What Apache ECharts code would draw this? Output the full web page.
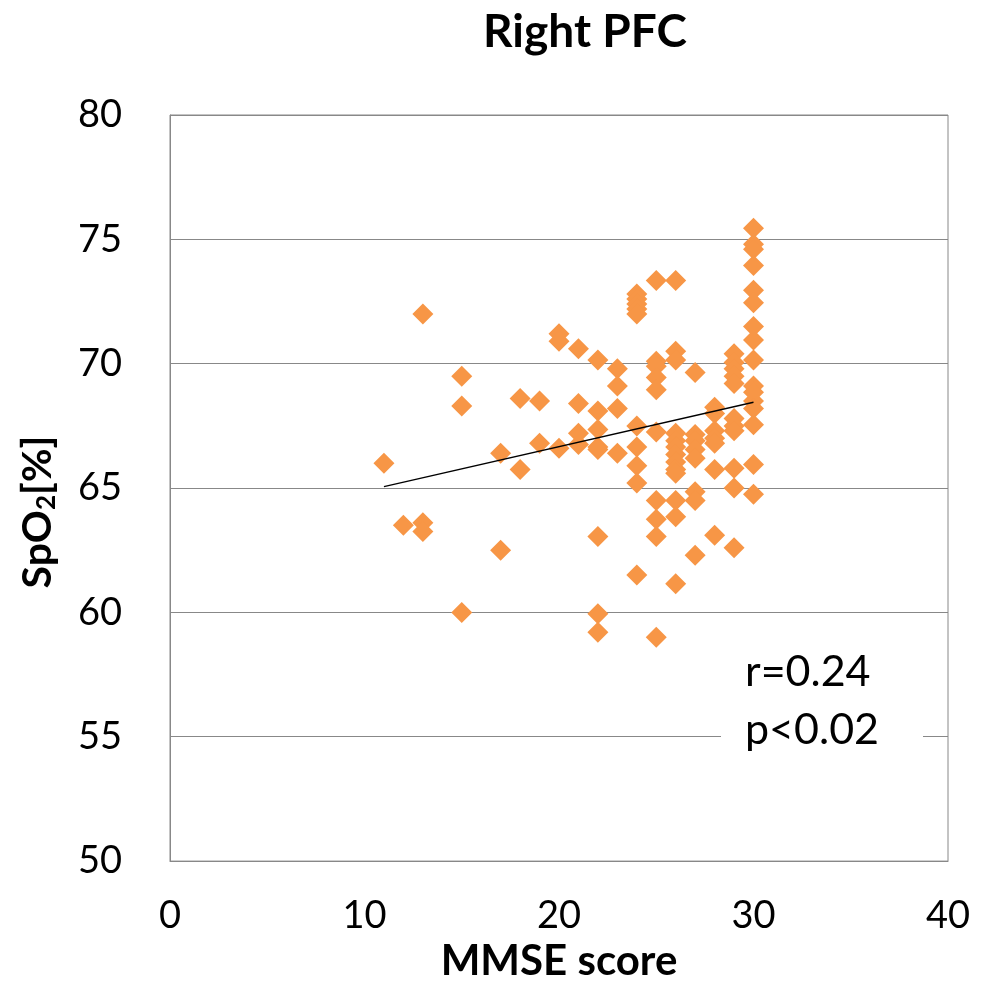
<!DOCTYPE html>
<html><head><meta charset="utf-8">
<script src="https://cdn.jsdelivr.net/npm/echarts@6/dist/echarts.min.js"></script>
<style>html,body{margin:0;padding:0;background:#fff}#c{width:984px;height:987px}</style>
</head><body><div id="c"></div>
<script>
var titleText = "Right PFC";
var xName = "MMSE score";
var statsLines = ["r=0.24", "p<0.02"];
var mmse = [11, 12, 13,13,13, 15,15,15, 17,17, 18,18, 19,19, 20,20,20, 21,21,21,21,
  22,22,22,22,22,22,22,22, 23,23,23,23,
  24,24,24,24,24,24,24,24,24,24,
  25,25,25,25,25,25,25,25,25,25,
  26,26,26,26,26,26,26,26,26,26,26,26,26,
  27,27,27,27,27,27,27,27,
  28,28,28,28,28,28,28,
  29,29,29,29,29,29,29,29,29,29,29,
  30,30,30,30,30,30,30,30,30,30,30,30,30,30,30,30];
var spo2 = [66.0, 63.5, 72.0,63.6,63.25, 69.5,68.3,60.0, 66.4,62.5, 68.6,65.75, 68.5,66.8, 71.2,70.9,66.6, 70.6,68.4,67.2,66.75,
  70.15,68.1,67.35,66.65,66.55,63.05,59.95,59.2, 69.8,69.1,68.2,66.4,
  72.8,72.6,72.4,72.2,72.0,67.5,66.65,65.9,65.2,61.5,
  73.35,70.1,69.9,69.45,68.95,67.25,64.5,63.75,63.05,59.0,
  73.35,70.5,70.15,67.2,66.9,66.65,66.35,66.05,65.75,65.6,64.5,63.85,61.15,
  69.65,67.15,66.9,66.55,66.2,64.85,64.5,62.3,
  68.25,68.0,67.3,67.0,66.8,65.75,63.1,
  70.4,70.05,69.8,69.5,69.2,67.8,67.5,67.3,65.8,65.0,62.6,
  75.45,74.8,74.6,73.95,72.95,72.45,71.5,70.95,70.15,69.1,68.85,68.5,68.2,67.55,65.95,64.75];
var trendX = [11, 30];
var trendY = [65.06, 68.45];
var xTicks = [0, 10, 20, 30, 40];
var yTicks = [50, 55, 60, 65, 70, 75, 80];

var pts = mmse.map(function(x, i){ return [x, spo2[i]]; });
var trend = trendX.map(function(x, i){ return [x, trendY[i]]; });
var FONT = 'Lato, "Open Sans", sans-serif';

var chart = echarts.init(document.getElementById('c'), null, {renderer:'canvas'});
chart.setOption({
  animation: false,
  backgroundColor: '#fff',
  title: {
    text: titleText, left: 580, top: 4, textAlign: 'center',
    textStyle: {fontFamily: FONT, fontWeight: 'bold', fontSize: 46, color: '#000'}
  },
  grid: {left: 170, right: 36, top: 115, bottom: 125, show: true, borderColor: '#888', borderWidth: 1},
  xAxis: {
    type: 'value', min: xTicks[0], max: xTicks[xTicks.length-1], interval: 10,
    name: xName, nameLocation: 'middle', nameGap: 78,
    nameTextStyle: {fontFamily: FONT, fontWeight: 'bold', fontSize: 42, color: '#000'},
    axisLine: {show: true, lineStyle: {color: '#888'}},
    axisTick: {show: false},
    splitLine: {show: false},
    axisLabel: {fontFamily: FONT, fontSize: 38, color: '#000', margin: 36}
  },
  yAxis: {
    type: 'value', min: yTicks[0], max: yTicks[yTicks.length-1], interval: 5,
    name: 'SpO{s|2}[%]', nameLocation: 'middle', nameGap: 110,
    nameTextStyle: {fontFamily: FONT, fontWeight: 'bold', fontSize: 41, color: '#000',
      padding: [0, 48, 0, 0],
      rich: {s: {fontFamily: FONT, fontWeight: 'bold', fontSize: 26, color: '#000', padding: [18,0,0,0]}}},
    axisLine: {show: true, lineStyle: {color: '#888'}},
    axisTick: {show: false},
    splitLine: {show: true, lineStyle: {color: '#888', width: 1}},
    axisLabel: {fontFamily: FONT, fontSize: 38, color: '#000', margin: 48}
  },
  series: [
    {type: 'scatter', data: pts, symbol: 'diamond', symbolSize: 21,
     itemStyle: {color: '#F79646', opacity: 1}, z: 3},
    {type: 'line', data: trend, symbol: 'none', lineStyle: {color: '#000', width: 1.3}, z: 4}
  ],
  graphic: [{
    type: 'text', left: 721, top: 643, z: 10,
    style: {text: statsLines.join('\n'), fontFamily: FONT, fontSize: 43, lineHeight: 58,
      fill: '#000', backgroundColor: '#fff', padding: [0, 44, 0, 24]}
  }]
});
</script></body></html>
